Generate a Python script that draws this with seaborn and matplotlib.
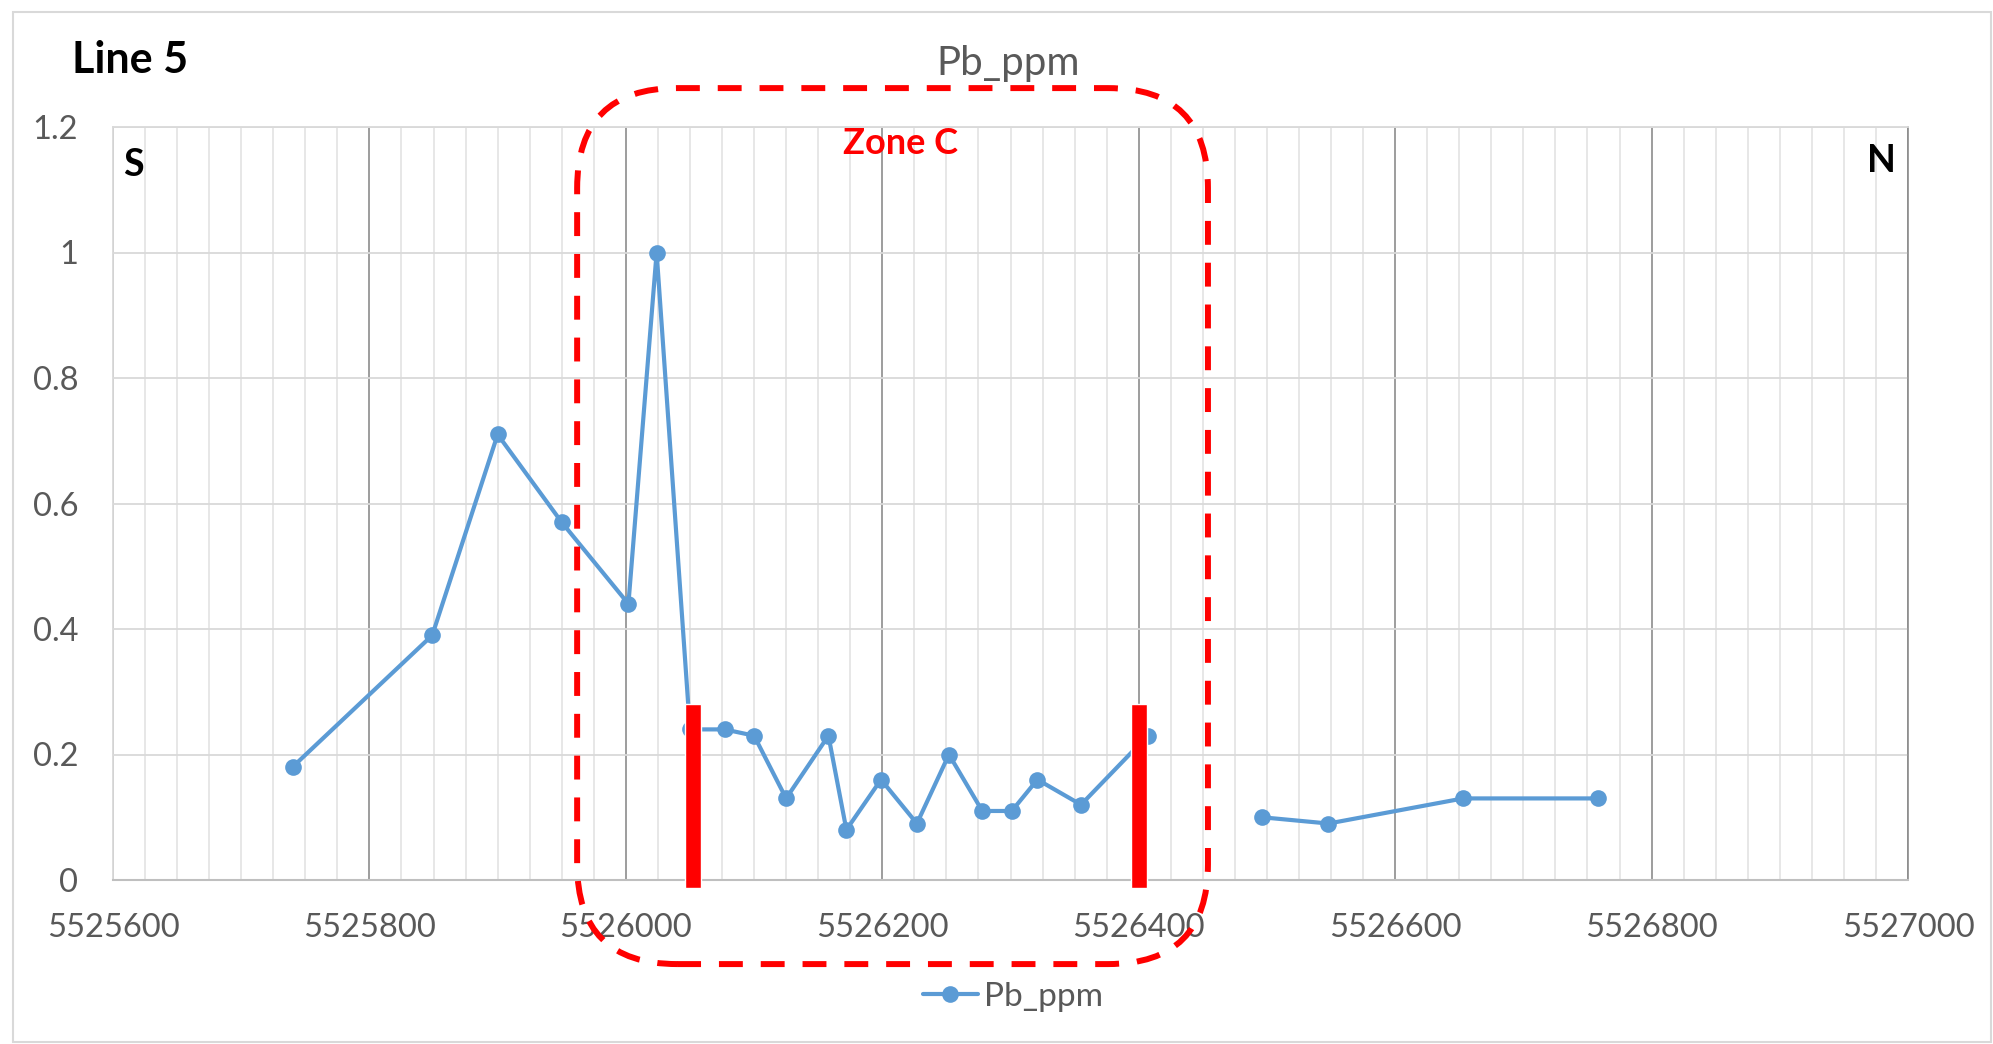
import numpy as np
import pandas as pd
import matplotlib
matplotlib.use("Agg")
import matplotlib.pyplot as plt
import seaborn as sns
from matplotlib.patches import FancyBboxPatch, Rectangle
from matplotlib.transforms import IdentityTransform
from matplotlib.ticker import MultipleLocator, FixedLocator

# ---------------- data ----------------
distance = [5525740, 5525849, 5525900, 5525950, 5526002, 5526024, 5526050,
            5526077, 5526100, 5526125, 5526158, 5526172, 5526199, 5526227,
            5526252, 5526278, 5526301, 5526321, 5526355, 5526407,
            5526496, 5526548, 5526653, 5526758]
pb_ppm = [0.18, 0.39, 0.71, 0.57, 0.44, 1.00, 0.24,
          0.24, 0.23, 0.13, 0.23, 0.08, 0.16, 0.09,
          0.20, 0.11, 0.11, 0.16, 0.12, 0.23,
          0.10, 0.09, 0.13, 0.13]
segment = [0, 0, 0, 0, 0, 0, 0, 0, 0, 0, 0, 0, 0, 0, 0, 0, 0, 0, 0, 0,
           1, 1, 1, 1]

x_ticks = [5525600, 5525800, 5526000, 5526200, 5526400, 5526600, 5526800, 5527000]
x_tick_labels = ["5525600", "5525800", "5526000", "5526200", "5526400",
                 "5526600", "5526800", "5527000"]
y_ticks = [0, 0.2, 0.4, 0.6, 0.8, 1.0, 1.2]
y_tick_labels = ["0", "0.2", "0.4", "0.6", "0.8", "1", "1.2"]

zone_x = [5525962, 5526454]
zone_y = [-0.134, 1.262]
zone_edges = [5526052, 5526400]
edge_bottom = [-0.012, -0.012]
edge_top = [0.28, 0.28]

df = pd.DataFrame({"distance": distance, "Pb_ppm": pb_ppm, "segment": segment})

# ---------------- style ----------------
sns.set_style("white")
plt.rcParams["font.family"] = ["Lato", "DejaVu Sans"]
GREY_TXT = "#595959"
BLUE = "#5B9BD5"

W, H = 1993, 1044
fig = plt.figure(figsize=(W / 100, H / 100), dpi=100)
L, R, T, B = 113, 1908, 127, 880
ax = fig.add_axes([L / W, 1 - B / H, (R - L) / W, (B - T) / H])

# line (two separate segments)
for i, (seg, sub) in enumerate(df.groupby("segment")):
    sns.lineplot(data=sub, x="distance", y="Pb_ppm", ax=ax, color=BLUE,
                 lw=3.0, marker="o", markersize=12, markeredgewidth=0,
                 label="Pb_ppm" if i == 0 else "_nolegend_", zorder=3,
                 sort=False)

# red zone edge bars
ax.bar(zone_edges, np.array(edge_top) - np.array(edge_bottom), bottom=edge_bottom,
       width=12.5, color="red", zorder=4, clip_on=False)

ax.set_xlim(x_ticks[0], x_ticks[-1])
ax.set_ylim(y_ticks[0], y_ticks[-1])
ax.xaxis.set_major_locator(FixedLocator(x_ticks))
ax.set_xticklabels(x_tick_labels)
ax.xaxis.set_minor_locator(MultipleLocator(25))
ax.yaxis.set_major_locator(FixedLocator(y_ticks))
ax.set_yticklabels(y_tick_labels)
ax.set_xlabel("")
ax.set_ylabel("")

ax.set_axisbelow(True)
ax.grid(which="minor", axis="x", color="#e0e0e0", lw=1.1)
ax.grid(which="major", axis="x", color="#8c8c8c", lw=1.2)
ax.grid(which="major", axis="y", color="#d9d9d9", lw=1.3)

for side in ["left", "top"]:
    ax.spines[side].set_color("#d9d9d9")
    ax.spines[side].set_linewidth(1.3)
ax.spines["bottom"].set_color("#bfbfbf")
ax.spines["bottom"].set_linewidth(1.5)
ax.spines["right"].set_color("#8c8c8c")
ax.spines["right"].set_linewidth(1.2)

ax.tick_params(axis="x", which="both", direction="in", length=7, color="#bfbfbf",
               width=1.2, labelsize=23.5, labelcolor=GREY_TXT, pad=24)
ax.tick_params(axis="y", which="both", length=0, labelsize=23.5,
               labelcolor=GREY_TXT, pad=25)

# annotations in data coordinates
ax.text(5526214, 1.174, "Zone C", color="red", fontweight="bold", fontsize=26,
        ha="center", va="center", zorder=6)
ax.text(5525616, 1.139, "S", color="black", fontweight="bold", fontsize=27,
        ha="center", va="center")
ax.text(5526979, 1.146, "N", color="black", fontweight="bold", fontsize=27,
        ha="center", va="center")

# figure texts
fig.text(72 / W, 1 - 60 / H, "Line 5", fontsize=31, fontweight="bold",
         color="black", ha="left", va="center")
fig.text(1008 / W, 1 - 63 / H, "Pb_ppm", fontsize=29, color=GREY_TXT,
         ha="center", va="center")

# legend
handles, labels = ax.get_legend_handles_labels()
ax.legend(handles[:1], labels[:1], loc="center",
          bbox_to_anchor=(1013 / W, 1 - 997 / H), bbox_transform=fig.transFigure,
          frameon=False, fontsize=24, handlelength=1.65, handletextpad=0.2,
          labelcolor=GREY_TXT)

# dashed rounded zone box (built from data-space bounds)
(x0, y0) = ax.transData.transform((zone_x[0], zone_y[0]))
(x1, y1) = ax.transData.transform((zone_x[1], zone_y[1]))
zone = FancyBboxPatch((x0, y0), x1 - x0, y1 - y0,
                      boxstyle="round,pad=0,rounding_size=100",
                      transform=IdentityTransform(), fill=False, ec="red",
                      lw=4.3, ls=(0, (4, 3)), zorder=10)
fig.add_artist(zone)

# outer chart border
border = Rectangle((13, 2), 1978, 1030, transform=IdentityTransform(),
                   fill=False, ec="#d9d9d9", lw=1.5, zorder=0)
fig.add_artist(border)

fig.savefig("out.png", dpi=100)
